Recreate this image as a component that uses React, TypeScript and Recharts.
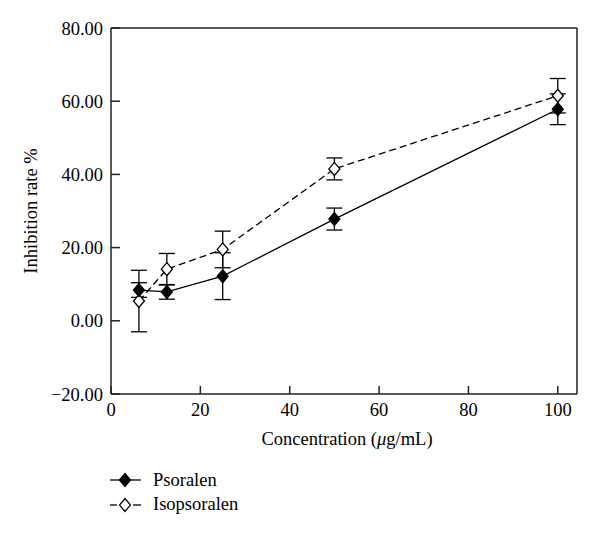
import React from 'react';
import { LineChart, Line, XAxis, YAxis, ErrorBar, Legend, ReferenceLine } from 'recharts';

const concentrations = [6.25, 12.5, 25, 50, 100];
const psoralenMean = [8.4, 7.9, 12.2, 27.8, 57.8];
const psoralenSD = [2.0, 2.0, 6.4, 3.0, 4.2];
const isopsoralenMean = [5.4, 14.1, 19.5, 41.5, 61.5];
const isopsoralenSD = [8.4, 4.3, 5.0, 3.0, 4.7];
const xTicks = [0, 20, 40, 60, 80, 100];
const yTicks = [-20, 0, 20, 40, 60, 80];

const data = concentrations.map((c, i) => ({
  x: c,
  pso: psoralenMean[i],
  psoErr: psoralenSD[i],
  iso: isopsoralenMean[i],
  isoErr: isopsoralenSD[i],
}));

const FONT = 'Liberation Serif, Tinos, Times New Roman, DejaVu Serif, serif';
const FS = 18.5;
const XMAX = 104.3;
const fontStyle = { fontFamily: FONT };

const Diamond = (filled: boolean) => (props: any) => {
  const { cx, cy, index } = props;
  if (cx == null || cy == null) return <g key={index} />;
  const w = 5.5, h = 6.5;
  return (
    <path
      key={index}
      d={`M${cx},${cy - h}L${cx + w},${cy}L${cx},${cy + h}L${cx - w},${cy}Z`}
      fill={filled ? '#000' : '#fff'}
      stroke="#000"
      strokeWidth={1.3}
    />
  );
};

const fmtY = (v: number) => (v < 0 ? '\u2212' + Math.abs(v).toFixed(2) : v.toFixed(2));

const LegendContent = () => (
  <svg width={220} height={56} style={{ display: 'block' }}>
    <line x1={2} y1={13} x2={33} y2={13} stroke="#000" strokeWidth={1.3} />
    <path d="M17,6.5L22.5,13L17,19.5L11.5,13Z" fill="#000" stroke="#000" strokeWidth={1.2} />
    <text x={45} y={19} style={fontStyle} fontSize={FS} fill="#000">Psoralen</text>
    <line x1={2} y1={38} x2={9} y2={38} stroke="#000" strokeWidth={1.3} />
    <line x1={25} y1={38} x2={33} y2={38} stroke="#000" strokeWidth={1.3} />
    <path d="M17,31.5L22.5,38L17,44.5L11.5,38Z" fill="#fff" stroke="#000" strokeWidth={1.2} />
    <text x={45} y={43} style={fontStyle} fontSize={FS} fill="#000">Isopsoralen</text>
  </svg>
);

const XLabel = (props: any) => {
  const vb = props.viewBox || {};
  const cx = (vb.x || 0) + (vb.width || 0) / 2;
  return (
    <text x={cx + 3} y={445} textAnchor="middle" style={fontStyle} fontSize={FS} fill="#000">
      Concentration (<tspan fontStyle="italic">μ</tspan>g/mL)
    </text>
  );
};

const YLabel = (props: any) => {
  const vb = props.viewBox || {};
  const cy = (vb.y || 0) + (vb.height || 0) / 2;
  return (
    <text
      x={37}
      y={cy}
      textAnchor="middle"
      transform={`rotate(-90, 37, ${cy})`}
      style={fontStyle}
      fontSize={FS}
      fill="#000"
    >
      Inhibition rate %
    </text>
  );
};

export default function App() {
  const axisStroke = '#222';
  const tickProps = { style: fontStyle, fontSize: FS, fill: '#000' };
  return (
    <div style={{ position: 'absolute', left: 0, top: 0, width: 600, height: 536, background: '#fff', fontFamily: FONT }}>
      <LineChart
        width={600}
        height={536}
        data={data}
        margin={{ top: 28, right: 23, bottom: 56, left: 0 }}
        style={fontStyle}
      >
        <XAxis
          dataKey="x"
          type="number"
          domain={[0, XMAX]}
          ticks={xTicks}
          allowDataOverflow
          height={30}
          tickSize={-8}
          tickMargin={17}
          stroke={axisStroke}
          strokeWidth={1.5}
          tick={tickProps}
          label={<XLabel />}
        />
        <YAxis
          type="number"
          domain={[-20, 80]}
          ticks={yTicks}
          allowDataOverflow
          width={111}
          tickSize={-9}
          tickMargin={17}
          tickFormatter={fmtY}
          stroke={axisStroke}
          strokeWidth={1.5}
          tick={tickProps}
          label={<YLabel />}
        />
        <ReferenceLine y={80} stroke={axisStroke} strokeWidth={1.5} />
        <ReferenceLine x={XMAX} stroke={axisStroke} strokeWidth={1.5} />
        <Line
          dataKey="iso"
          name="Isopsoralen"
          stroke="#000"
          strokeWidth={1.3}
          strokeDasharray="7 4"
          dot={Diamond(false)}
          activeDot={false}
          isAnimationActive={false}
        >
          <ErrorBar dataKey="isoErr" direction="y" width={8} stroke="#000" strokeWidth={1.3} isAnimationActive={false} />
        </Line>
        <Line
          dataKey="pso"
          name="Psoralen"
          stroke="#000"
          strokeWidth={1.3}
          dot={Diamond(true)}
          activeDot={false}
          isAnimationActive={false}
        >
          <ErrorBar dataKey="psoErr" direction="y" width={8} stroke="#000" strokeWidth={1.3} isAnimationActive={false} />
        </Line>
        <Legend
          verticalAlign="bottom"
          align="left"
          content={<LegendContent />}
          wrapperStyle={{ position: 'absolute', left: 108, top: 467, width: 220, height: 56 }}
        />
      </LineChart>
    </div>
  );
}
